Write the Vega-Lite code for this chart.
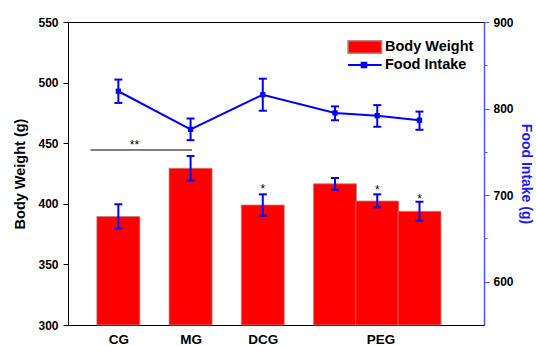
{
  "$schema": "https://vega.github.io/schema/vega-lite/v6.json",
  "width": 416,
  "height": 303,
  "autosize": {"type": "none"},
  "padding": {"left": 68, "top": 22, "right": 52, "bottom": 21},
  "background": "white",
  "config": {
    "font": "Liberation Sans",
    "view": {"stroke": "black", "strokeWidth": 1},
    "axis": {"grid": false, "labelFont": "Liberation Sans", "titleFont": "Liberation Sans", "labelFontWeight": "bold", "titleFontWeight": "bold", "labelColor": "black", "titleColor": "black", "domainColor": "black", "tickColor": "black", "labelFlush": false},
    "legend": {"labelFont": "Liberation Sans"}
  },
  "datasets": {
    "groups": [
      {"group": "CG", "pos": 1, "bw": 389.5, "bwLo": 379.6, "bwHi": 399.6, "fi": 820, "fiLo": 806.5, "fiHi": 833.5},
      {"group": "MG", "pos": 2, "bw": 429.3, "bwLo": 419.2, "bwHi": 439.4, "fi": 776, "fiLo": 763.5, "fiHi": 788.5},
      {"group": "DCG", "pos": 3, "bw": 399, "bwLo": 390.2, "bwHi": 407.8, "fi": 816, "fiLo": 797.5, "fiHi": 834.5, "sig": "*", "sigY": 408.5},
      {"group": "PEG", "pos": 4, "bw": 416.5, "bwLo": 411.6, "bwHi": 421.3, "fi": 795, "fiLo": 786.5, "fiHi": 802.5},
      {"group": "PEG", "pos": 4.585, "bw": 402.3, "bwLo": 397.1, "bwHi": 407.8, "fi": 791.8, "fiLo": 779, "fiHi": 804, "sig": "*", "sigY": 407.7},
      {"group": "PEG", "pos": 5.17, "bw": 393.8, "bwLo": 386, "bwHi": 401.7, "fi": 786.5, "fiLo": 775.5, "fiHi": 796.5, "sig": "*", "sigY": 400.8}
    ],
    "annot": [
      {"x1": 0.615, "x2": 2.02, "y": 444.4, "lx": 1.223, "ly": 445, "label": "**"}
    ]
  },
  "layer": [
    {
      "layer": [
        {
          "data": {"name": "groups"},
          "mark": {"type": "bar", "size": 43, "stroke": "#c08080", "strokeWidth": 0.8},
          "encoding": {
            "x": {"field": "pos", "type": "quantitative", "scale": {"domain": [0.372, 5.994], "nice": false, "zero": false},
              "axis": {"values": [1, 2, 3, 4.63], "labelExpr": "datum.value < 1.5 ? 'CG' : datum.value < 2.5 ? 'MG' : datum.value < 3.5 ? 'DCG' : 'PEG'", "ticks": false, "title": null, "labelFontSize": 13.5, "labelPadding": 7}},
            "y": {"field": "bw", "type": "quantitative", "scale": {"domain": [300, 550], "nice": false, "zero": false},
              "axis": {"title": "Body Weight (g)", "values": [300, 325, 350, 375, 400, 425, 450, 475, 500, 525, 550], "labelExpr": "datum.value % 50 === 0 ? datum.label : ''", "tickSize": {"condition": {"test": "datum.value % 50 === 0", "value": 5}, "value": 3}, "labelFontSize": 12, "labelPadding": 5, "titleFontSize": 14.5, "titlePadding": 10}},
            "y2": {"datum": 300},
            "color": {"datum": "Body Weight", "scale": {"range": ["#ff0000"]},
              "legend": {"orient": "none", "legendX": 279, "legendY": 15.5, "title": null, "symbolType": "M-1,-0.745H2.96V0.745H-1Z", "symbolSize": 289, "symbolOpacity": 1, "labelFontSize": 14.5, "labelFontWeight": "bold", "labelColor": "black", "labelOffset": 19, "padding": 0}}
          }
        },
        {
          "data": {"name": "groups"},
          "mark": {"type": "rule", "color": "#0000ff", "strokeWidth": 2},
          "encoding": {
            "x": {"field": "pos", "type": "quantitative"},
            "y": {"field": "bwLo", "type": "quantitative"},
            "y2": {"field": "bwHi"}
          }
        },
        {
          "data": {"name": "groups"},
          "mark": {"type": "tick", "orient": "horizontal", "color": "#0000ff", "size": 8, "thickness": 2, "opacity": 1},
          "encoding": {
            "x": {"field": "pos", "type": "quantitative"},
            "y": {"field": "bwLo", "type": "quantitative"}
          }
        },
        {
          "data": {"name": "groups"},
          "mark": {"type": "tick", "orient": "horizontal", "color": "#0000ff", "size": 8, "thickness": 2, "opacity": 1},
          "encoding": {
            "x": {"field": "pos", "type": "quantitative"},
            "y": {"field": "bwHi", "type": "quantitative"}
          }
        },
        {
          "data": {"name": "groups"},
          "transform": [{"filter": "isValid(datum.sigY)"}],
          "mark": {"type": "text", "fontSize": 12, "color": "black", "baseline": "alphabetic", "align": "center"},
          "encoding": {
            "x": {"field": "pos", "type": "quantitative"},
            "y": {"field": "sigY", "type": "quantitative"},
            "text": {"field": "sig"}
          }
        },
        {
          "data": {"name": "annot"},
          "mark": {"type": "rule", "color": "black", "strokeWidth": 1},
          "encoding": {
            "x": {"field": "x1", "type": "quantitative"},
            "x2": {"field": "x2"},
            "y": {"field": "y", "type": "quantitative"}
          }
        },
        {
          "data": {"name": "annot"},
          "mark": {"type": "text", "fontSize": 12, "color": "black", "baseline": "alphabetic", "align": "center"},
          "encoding": {
            "x": {"field": "lx", "type": "quantitative"},
            "y": {"field": "ly", "type": "quantitative"},
            "text": {"field": "label"}
          }
        }
      ]
    },
    {
      "layer": [
        {
          "data": {"name": "groups"},
          "mark": {"type": "line", "strokeWidth": 2},
          "encoding": {
            "x": {"field": "pos", "type": "quantitative"},
            "y": {"field": "fi", "type": "quantitative", "scale": {"domain": [550, 900], "nice": false, "zero": false},
              "axis": {"orient": "right", "title": "Food Intake (g)", "values": [600, 650, 700, 750, 800, 850, 900], "labelExpr": "datum.value % 100 === 0 ? datum.label : ''", "tickSize": {"condition": {"test": "datum.value % 100 === 0", "value": 5}, "value": 3}, "domainColor": "#5555ff", "domainWidth": 1.5, "tickColor": "#5555ff", "labelFontSize": 12, "labelPadding": 4, "titleFontSize": 14, "titleColor": "#1a1aff", "titlePadding": 5}},
            "stroke": {"datum": "Food Intake", "scale": {"range": ["#0000ff"]},
              "legend": {"orient": "none", "legendX": 279, "legendY": 33.5, "title": null, "symbolType": "M-1,0H2.96M0.61,-0.27H1.15V0.27H0.61Z", "symbolSize": 289, "symbolStrokeWidth": 2, "symbolFillColor": "#0000ff", "symbolOpacity": 1, "labelFontSize": 14.5, "labelFontWeight": "bold", "labelColor": "black", "labelOffset": 19, "padding": 0}}
          }
        },
        {
          "data": {"name": "groups"},
          "mark": {"type": "rule", "color": "#0000ff", "strokeWidth": 2},
          "encoding": {
            "x": {"field": "pos", "type": "quantitative"},
            "y": {"field": "fiLo", "type": "quantitative"},
            "y2": {"field": "fiHi"}
          }
        },
        {
          "data": {"name": "groups"},
          "mark": {"type": "tick", "orient": "horizontal", "color": "#0000ff", "size": 8, "thickness": 2, "opacity": 1},
          "encoding": {
            "x": {"field": "pos", "type": "quantitative"},
            "y": {"field": "fiLo", "type": "quantitative"}
          }
        },
        {
          "data": {"name": "groups"},
          "mark": {"type": "tick", "orient": "horizontal", "color": "#0000ff", "size": 8, "thickness": 2, "opacity": 1},
          "encoding": {
            "x": {"field": "pos", "type": "quantitative"},
            "y": {"field": "fiHi", "type": "quantitative"}
          }
        },
        {
          "data": {"name": "groups"},
          "mark": {"type": "point", "shape": "square", "filled": true, "color": "#0000ff", "size": 28, "opacity": 1},
          "encoding": {
            "x": {"field": "pos", "type": "quantitative"},
            "y": {"field": "fi", "type": "quantitative"}
          }
        }
      ]
    }
  ],
  "resolve": {"scale": {"y": "independent"}}
}
